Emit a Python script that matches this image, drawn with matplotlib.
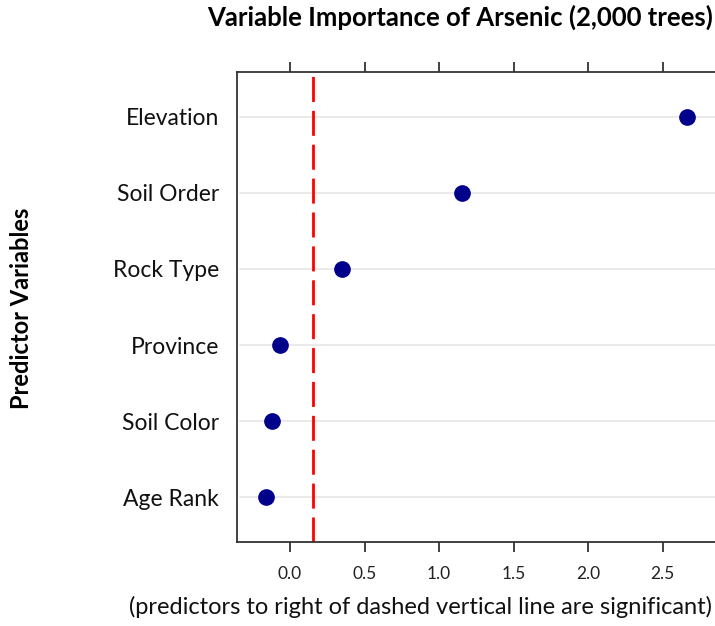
import matplotlib
matplotlib.use("Agg")
import matplotlib.pyplot as plt

variables = ["Age Rank", "Soil Color", "Province", "Rock Type", "Soil Order", "Elevation"]
importance = [-0.16, -0.12, -0.067, 0.35, 1.153, 2.66]
threshold = 0.152
xticks = [0.0, 0.5, 1.0, 1.5, 2.0, 2.5]
xtick_labels = ["0.0", "0.5", "1.0", "1.5", "2.0", "2.5"]

plt.rcParams['font.family'] = ['Lato', 'DejaVu Sans']

W, H = 715, 626
fig = plt.figure(figsize=(W / 100, H / 100), dpi=100)
left, right, top, bottom = 237, 715, 72, 542
ax = fig.add_axes([left / W, 1 - bottom / H, (right - left) / W, (bottom - top) / H])

ypos = list(range(1, len(variables) + 1))
for y in ypos:
    ax.axhline(y, color="#e6e6e6", lw=1.2, zorder=0, xmin=0.006)
ax.plot(importance, ypos, 'o', color="#00008B", markersize=11, zorder=3, linestyle='none')
ax.axvline(threshold, color="#ff0000", lw=2, dashes=(9, 3.2), zorder=2)

ax.set_xlim(-0.355, 2.85)
ax.set_ylim(0.41, 6.59)
ax.set_yticks(ypos)
ax.set_yticklabels(variables, fontsize=16.5, color="#111111")
ax.tick_params(axis='y', length=0, pad=13)
ax.set_xticks(xticks)
ax.set_xticklabels(xtick_labels, fontsize=12.5, color="#222222")
ax.tick_params(axis='x', which='both', direction='out', length=7.5, width=1.3,
               top=True, bottom=True, labeltop=False, pad=10, color="#333333")
for s in ["left", "top", "bottom"]:
    ax.spines[s].set_linewidth(1.3)
    ax.spines[s].set_color("#333333")
ax.spines["right"].set_visible(False)

fig.text(713 / W, 1 - 17 / H, "Variable Importance of Arsenic (2,000 trees)",
         ha="right", va="center", fontsize=18.5, fontweight="bold")
fig.text(22 / W, 1 - 308 / H, "Predictor Variables", rotation=90,
         ha="center", va="center", fontsize=17, fontweight="bold")
fig.text(712 / W, 1 - 607 / H,
         "(predictors to right of dashed vertical line are significant)",
         ha="right", va="center", fontsize=17, color="#111111")

fig.savefig("out.png", dpi=100)
